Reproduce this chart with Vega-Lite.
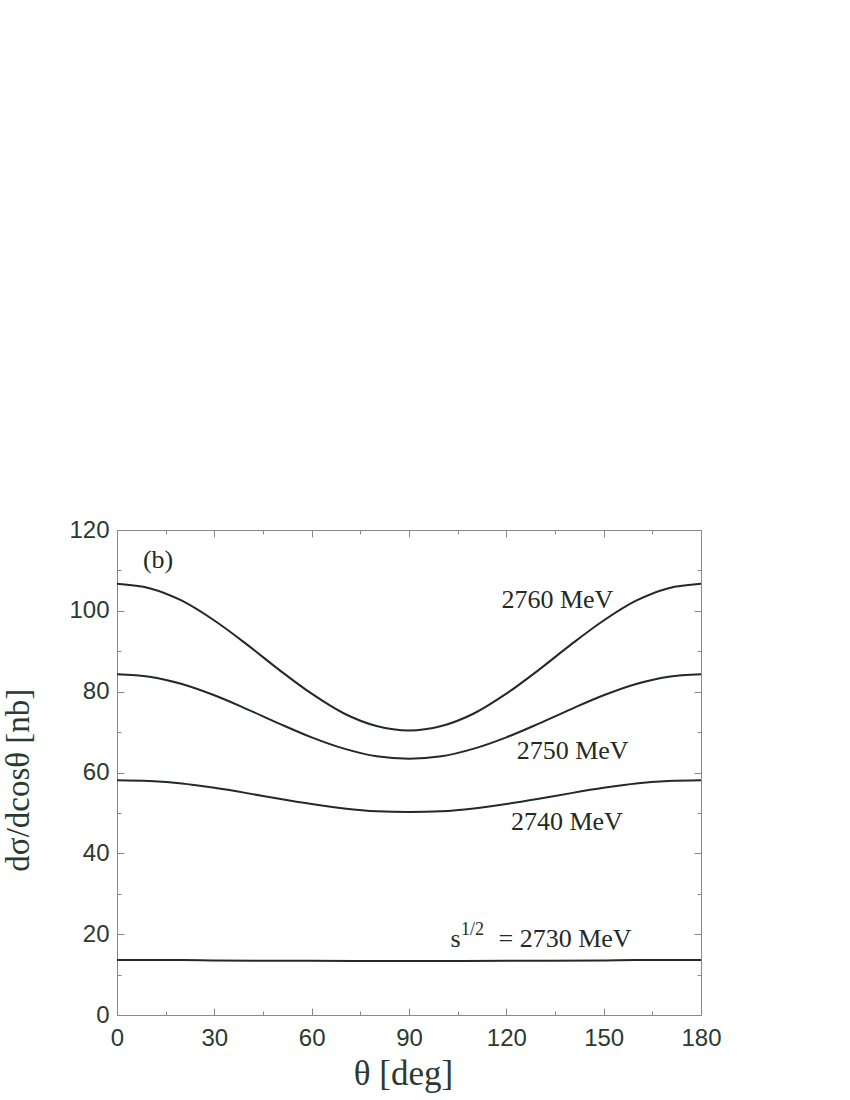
{
  "$schema": "https://vega.github.io/schema/vega-lite/v6.json",
  "autosize": "none",
  "width": 584,
  "height": 485,
  "padding": {"left": 117, "top": 530, "right": 149, "bottom": 85},
  "background": "white",
  "config": {"view": {"stroke": null}},
  "datasets": {
    "curves": [
      {"theta": 0, "v": 106.7, "s": "2760"}, {"theta": 10, "v": 105.6, "s": "2760"}, {"theta": 20, "v": 102.5, "s": "2760"}, {"theta": 30, "v": 97.6, "s": "2760"}, {"theta": 40, "v": 91.7, "s": "2760"}, {"theta": 50, "v": 85.4, "s": "2760"}, {"theta": 60, "v": 79.5, "s": "2760"}, {"theta": 70, "v": 74.6, "s": "2760"}, {"theta": 80, "v": 71.5, "s": "2760"}, {"theta": 90, "v": 70.4, "s": "2760"}, {"theta": 100, "v": 71.5, "s": "2760"}, {"theta": 110, "v": 74.6, "s": "2760"}, {"theta": 120, "v": 79.5, "s": "2760"}, {"theta": 130, "v": 85.4, "s": "2760"}, {"theta": 140, "v": 91.7, "s": "2760"}, {"theta": 150, "v": 97.6, "s": "2760"}, {"theta": 160, "v": 102.5, "s": "2760"}, {"theta": 170, "v": 105.6, "s": "2760"}, {"theta": 180, "v": 106.7, "s": "2760"},
      {"theta": 0, "v": 84.3, "s": "2750"}, {"theta": 10, "v": 83.7, "s": "2750"}, {"theta": 20, "v": 81.9, "s": "2750"}, {"theta": 30, "v": 79.1, "s": "2750"}, {"theta": 40, "v": 75.7, "s": "2750"}, {"theta": 50, "v": 72.1, "s": "2750"}, {"theta": 60, "v": 68.7, "s": "2750"}, {"theta": 70, "v": 65.9, "s": "2750"}, {"theta": 80, "v": 64.0, "s": "2750"}, {"theta": 90, "v": 63.4, "s": "2750"}, {"theta": 100, "v": 64.0, "s": "2750"}, {"theta": 110, "v": 65.9, "s": "2750"}, {"theta": 120, "v": 68.7, "s": "2750"}, {"theta": 130, "v": 72.1, "s": "2750"}, {"theta": 140, "v": 75.7, "s": "2750"}, {"theta": 150, "v": 79.1, "s": "2750"}, {"theta": 160, "v": 81.9, "s": "2750"}, {"theta": 170, "v": 83.7, "s": "2750"}, {"theta": 180, "v": 84.3, "s": "2750"},
      {"theta": 0, "v": 58.1, "s": "2740"}, {"theta": 10, "v": 57.9, "s": "2740"}, {"theta": 20, "v": 57.3, "s": "2740"}, {"theta": 30, "v": 56.2, "s": "2740"}, {"theta": 40, "v": 54.9, "s": "2740"}, {"theta": 50, "v": 53.5, "s": "2740"}, {"theta": 60, "v": 52.2, "s": "2740"}, {"theta": 70, "v": 51.1, "s": "2740"}, {"theta": 80, "v": 50.4, "s": "2740"}, {"theta": 90, "v": 50.2, "s": "2740"}, {"theta": 100, "v": 50.4, "s": "2740"}, {"theta": 110, "v": 51.1, "s": "2740"}, {"theta": 120, "v": 52.2, "s": "2740"}, {"theta": 130, "v": 53.5, "s": "2740"}, {"theta": 140, "v": 54.9, "s": "2740"}, {"theta": 150, "v": 56.2, "s": "2740"}, {"theta": 160, "v": 57.3, "s": "2740"}, {"theta": 170, "v": 57.9, "s": "2740"}, {"theta": 180, "v": 58.1, "s": "2740"},
      {"theta": 0, "v": 13.6, "s": "2730"}, {"theta": 20, "v": 13.6, "s": "2730"}, {"theta": 30, "v": 13.5, "s": "2730"}, {"theta": 60, "v": 13.4, "s": "2730"}, {"theta": 90, "v": 13.35, "s": "2730"}, {"theta": 120, "v": 13.4, "s": "2730"}, {"theta": 150, "v": 13.5, "s": "2730"}, {"theta": 160, "v": 13.6, "s": "2730"}, {"theta": 180, "v": 13.6, "s": "2730"}
    ],
    "labels": [
      {"theta": 8.0, "v": 110.6, "t": "(b)", "fs": 26},
      {"theta": 118.5, "v": 100.7, "t": "2760 MeV", "fs": 26},
      {"theta": 123.2, "v": 63.3, "t": "2750 MeV", "fs": 26},
      {"theta": 121.4, "v": 45.8, "t": "2740 MeV", "fs": 26},
      {"theta": 102.8, "v": 16.8, "t": "s", "fs": 26},
      {"theta": 106.0, "v": 19.8, "t": "1/2", "fs": 18},
      {"theta": 117.6, "v": 16.8, "t": "= 2730 MeV", "fs": 26}
    ],
    "titles": [
      {"theta": 88.3, "v": -17.3, "t": "θ [deg]", "ang": 0, "fs": 35},
      {"theta": -27.0, "v": 58.1, "t": "dσ/dcosθ [nb]", "ang": 270, "fs": 33}
    ]
  },
  "resolve": {"axis": {"x": "independent", "y": "independent"}},
  "layer": [
    {
      "data": {"name": "curves"},
      "mark": {"type": "line", "color": "#1f2b24", "strokeWidth": 2, "interpolate": "monotone"},
      "encoding": {
        "x": {
          "field": "theta", "type": "quantitative",
          "scale": {"domain": [0, 180], "nice": false, "zero": false},
          "axis": {
            "orient": "bottom",
            "values": [0, 15, 30, 45, 60, 75, 90, 105, 120, 135, 150, 165, 180],
            "labelExpr": "datum.value % 30 == 0 ? datum.label : ''",
            "tickSize": {"condition": {"test": "datum.value % 30 == 0", "value": -7}, "value": -4},
            "tickColor": "#888888", "domainColor": "#888888", "grid": false,
            "labelFont": "Liberation Sans", "labelFontSize": 24, "labelColor": "#2a3a2f",
            "labelPadding": 18, "labelFlush": false, "title": null
          }
        },
        "y": {
          "field": "v", "type": "quantitative",
          "scale": {"domain": [0, 120], "nice": false},
          "axis": {
            "orient": "left",
            "values": [0, 10, 20, 30, 40, 50, 60, 70, 80, 90, 100, 110, 120],
            "labelExpr": "datum.value % 20 == 0 ? datum.label : ''",
            "tickSize": {"condition": {"test": "datum.value % 20 == 0", "value": -7}, "value": -4},
            "tickColor": "#888888", "domainColor": "#888888", "grid": false,
            "labelFont": "Liberation Sans", "labelFontSize": 24, "labelColor": "#2a3a2f",
            "labelPadding": 15, "labelFlush": false, "title": null
          }
        },
        "detail": {"field": "s", "type": "nominal"}
      }
    },
    {
      "data": {"name": "labels"},
      "mark": {"type": "text", "font": "Liberation Serif", "align": "left", "baseline": "alphabetic", "color": "#1f2b24"},
      "encoding": {
        "x": {
          "field": "theta", "type": "quantitative",
          "axis": {
            "orient": "top", "values": [0, 15, 30, 45, 60, 75, 90, 105, 120, 135, 150, 165, 180],
            "labels": false, "title": null, "grid": false,
            "tickSize": {"condition": {"test": "datum.value % 30 == 0", "value": -7}, "value": -4},
            "tickColor": "#888888", "domainColor": "#888888"
          }
        },
        "y": {
          "field": "v", "type": "quantitative",
          "axis": {
            "orient": "right", "values": [0, 10, 20, 30, 40, 50, 60, 70, 80, 90, 100, 110, 120],
            "labels": false, "title": null, "grid": false,
            "tickSize": {"condition": {"test": "datum.value % 20 == 0", "value": -7}, "value": -4},
            "tickColor": "#888888", "domainColor": "#888888"
          }
        },
        "text": {"field": "t"},
        "size": {"field": "fs", "type": "quantitative", "scale": null}
      }
    },
    {
      "data": {"name": "titles"},
      "mark": {"type": "text", "font": "Liberation Serif", "align": "center", "baseline": "alphabetic", "color": "#2a3a2f"},
      "encoding": {
        "x": {"field": "theta", "type": "quantitative", "axis": null},
        "y": {"field": "v", "type": "quantitative", "axis": null},
        "text": {"field": "t"},
        "size": {"field": "fs", "type": "quantitative", "scale": null},
        "angle": {"field": "ang", "type": "quantitative", "scale": null}
      }
    }
  ]
}
